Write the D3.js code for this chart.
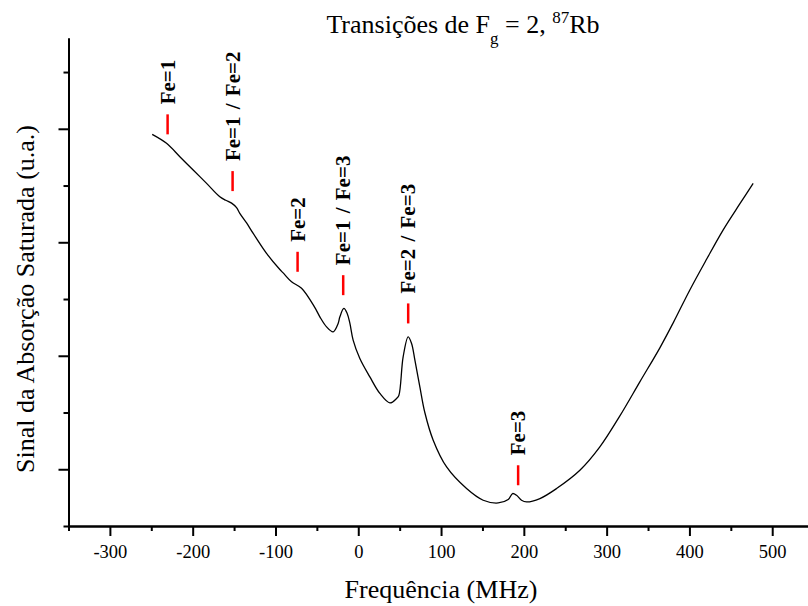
<!DOCTYPE html>
<html>
<head>
<meta charset="utf-8">
<script src="https://cdn.jsdelivr.net/npm/d3@7"></script>
<style>
  body { margin: 0; background: #fff; }
  svg { display: block; font-family: "Liberation Serif", "Times New Roman", serif; }
</style>
</head>
<body>
<div id="chart"></div>
<script>
// Frequency (MHz) and saturated absorption signal (a.u.)
var freq = [-248.9, -231.6, -215.5, -199.4, -183.2, -167.2, -160.0, -153.0, -147.0, -143.1, -134.9, -126.9,
    -110.8, -94.7, -90.7, -80.6, -68.5, -52.4, -46.4, -38.3, -30.3, -24.3, -22.2, -17.4, -13.4,
    -10.1, -6.2, 1.9, 14.0, 26.1, 38.2, 46.3, 49.0, 54.2, 60.3, 64.4, 68.4, 74.4, 80.4, 90.5,
    106.7, 130.8, 150.9, 169.0, 181.1, 186.4, 191.2, 197.2, 203.3, 219.4, 239.5, 267.7, 291.8,
    316.0, 340.1, 364.3, 380.4, 400.5, 420.7, 440.8, 461.0, 477.0];
var signal = [2.951, 2.872, 2.754, 2.637, 2.519, 2.401, 2.370, 2.345, 2.305, 2.255, 2.170, 2.078,
    1.902, 1.760, 1.730, 1.652, 1.595, 1.424, 1.343, 1.255, 1.211, 1.285, 1.343, 1.417, 1.373,
    1.285, 1.138, 0.976, 0.814, 0.668, 0.585, 0.624, 0.650, 0.990, 1.167, 1.108, 0.961, 0.726, 0.500, 0.256,
    0.020, -0.170, -0.273, -0.297, -0.267, -0.214, -0.229, -0.273, -0.288, -0.258, -0.170, -0.009, 0.197,
    0.470, 0.770, 1.070, 1.290, 1.580, 1.850, 2.110, 2.340, 2.519];

// Transition markers
var markerLabels = ["Fe=1", "Fe=1 / Fe=2", "Fe=2", "Fe=1 / Fe=3", "Fe=2 / Fe=3", "Fe=3"];
var markerFreq = [-230.3, -151.8, -73.3, -18.2, 60.3, 193.1];
var markerLevel = [2.951, 2.451, 1.740, 1.534, 1.285, -0.141];

// Axis ticks
var xMajorTicks = [-300, -200, -100, 0, 100, 200, 300, 400, 500];
var xMinorTicks = [-350, -250, -150, -50, 50, 150, 250, 350, 450, 550];
var yMajorTicks = [0, 1, 2, 3];
var yMinorTicks = [-0.5, 0.5, 1.5, 2.5, 3.5];

var width = 808, height = 606;
var x0 = 68.5, y0 = 526, yTop = 38;

var svg = d3.select("#chart")
    .append("svg")
    .attr("width", width)
    .attr("height", height);

var x = d3.scaleLinear().domain([-350, 550]).range([x0, x0 + 900 * 0.8279]);
var y = d3.scaleLinear().domain([-0.5, 3.8]).range([y0, yTop]);

// minor ticks first, majors on top
svg.append("g")
    .attr("transform", "translate(0," + y0 + ")")
    .call(d3.axisBottom(x).tickValues(xMinorTicks).tickSize(5).tickSizeOuter(0).tickFormat(""));

var xAxis = svg.append("g")
    .attr("transform", "translate(0," + y0 + ")")
    .call(d3.axisBottom(x).tickValues(xMajorTicks).tickSize(10).tickSizeOuter(0)
        .tickFormat(function (d) { return String(d); }));

svg.append("g")
    .attr("transform", "translate(" + x0 + ",0)")
    .call(d3.axisLeft(y).tickValues(yMinorTicks).tickSize(5).tickSizeOuter(0).tickFormat(""));

svg.append("g")
    .attr("transform", "translate(" + x0 + ",0)")
    .call(d3.axisLeft(y).tickValues(yMajorTicks).tickSize(10).tickSizeOuter(0).tickFormat(""));

svg.selectAll(".domain, .tick line")
    .attr("stroke", "#000")
    .attr("stroke-width", 2);

xAxis.selectAll("text")
    .attr("y", 32)
    .attr("dy", 0)
    .attr("fill", "#000")
    .style("font-family", "'Liberation Serif', 'Times New Roman', serif")
    .style("font-size", "18.5px");

// trace
var pts = freq.map(function (f, i) { return [f, signal[i]]; });
var line = d3.line()
    .x(function (d) { return x(d[0]); })
    .y(function (d) { return y(d[1]); })
    .curve(d3.curveCatmullRom.alpha(0.5));

svg.append("path")
    .datum(pts)
    .attr("d", line)
    .attr("fill", "none")
    .attr("stroke", "#000")
    .attr("stroke-width", 1.3);

// red markers and labels
var marks = svg.selectAll(".marker")
    .data(markerLabels)
    .enter()
    .append("g")
    .classed("marker", true)
    .attr("transform", function (d, i) {
        return "translate(" + x(markerFreq[i]) + "," + y(markerLevel[i]) + ")";
    });

marks.append("line")
    .attr("x1", 0).attr("x2", 0)
    .attr("y1", 0).attr("y2", -20)
    .attr("stroke", "#ff0000")
    .attr("stroke-width", 2.5);

marks.append("text")
    .attr("transform", "translate(0,-30) rotate(-90)")
    .attr("dy", "0.33em")
    .attr("text-anchor", "start")
    .style("font-weight", "bold")
    .style("font-size", "21px")
    .style("word-spacing", "2px")
    .text(function (d) { return d; });

// titles
var title = svg.append("text")
    .attr("x", 463)
    .attr("y", 33)
    .attr("text-anchor", "middle")
    .style("font-size", "26px");
title.append("tspan").text("Transições de F");
title.append("tspan").attr("dy", 10.5).style("font-size", "17px").text("g");
title.append("tspan").attr("dy", -10.5).text(" = 2, ");
title.append("tspan").attr("dy", -10.5).style("font-size", "17px").text("87");
title.append("tspan").attr("dy", 10.5).text("Rb");

svg.append("text")
    .attr("x", 441)
    .attr("y", 598)
    .attr("text-anchor", "middle")
    .style("font-size", "26px")
    .text("Frequência (MHz)");

svg.append("text")
    .attr("transform", "translate(33.5,299) rotate(-90)")
    .attr("text-anchor", "middle")
    .style("font-size", "26px")
    .text("Sinal da Absorção Saturada (u.a.)");
</script>
</body>
</html>
